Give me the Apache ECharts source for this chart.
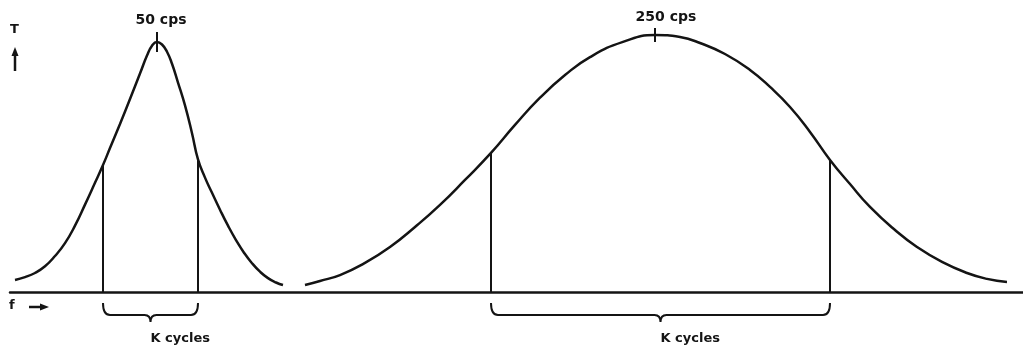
<!DOCTYPE html>
<html>
<head>
<meta charset="utf-8">
<script src="https://cdn.jsdelivr.net/npm/echarts@6/dist/echarts.min.js"></script>
<style>
  html, body { margin: 0; padding: 0; background: #fff; }
  #chart { width: 1023px; height: 349px; }
</style>
</head>
<body>
<div id="chart"></div>
<script>
// Transmission T against frequency f for the two filters, as [f, T] pairs.
const narrowCurve = [
  [15, 4.7], [25, 5.8], [35, 7.4], [45, 10.0], [55, 14.0], [65, 19.0],
  [75, 25.8], [85, 34.0], [95, 42.5], [103, 49.4], [110, 56.0], [120, 65.4],
  [130, 75.1], [140, 85.0], [147, 92.0], [152, 95.8], [157, 97.3], [162, 96.3],
  [167, 93.5], [172, 88.8], [178, 81.5], [185, 72.6], [192, 61.8], [198, 51.6],
  [205, 44.5], [212, 38.6], [220, 32.0], [228, 25.8], [236, 20.2], [244, 15.3],
  [252, 11.2], [260, 7.9], [268, 5.4], [276, 3.7], [283, 2.7]
];
const wideCurve = [
  [305, 2.7], [320, 4.3], [340, 6.6], [365, 11.3], [390, 17.5], [415, 25.3],
  [440, 33.9], [465, 43.6], [491, 54.1], [515, 65.0], [540, 75.6], [565, 84.4],
  [590, 91.4], [623, 97.3], [655, 100], [680, 99.2], [700, 96.9], [725, 92.6],
  [750, 86.4], [770, 79.8], [790, 72.0], [810, 62.3], [830, 51.4], [850, 42.0],
  [870, 33.1], [895, 24.1], [917, 17.5], [942, 11.7], [967, 7.4], [987, 5.1],
  [1007, 3.9]
];

// Centre frequency of each filter and its label.
const peakNames = ['50 cps', '250 cps'];
const peakF = [157, 655];
const peakT = [97.3, 100];

// Pass band of each filter: edge frequencies and curve height at each edge.
const bandStart = [103, 491];
const bandEnd = [198, 830];
const bandStartT = [49.4, 54.1];
const bandEndT = [51.6, 51.4];
const bandLabel = 'K cycles';

const INK = '#141414';
const FONT = 'DejaVu Sans';

const chart = echarts.init(document.getElementById('chart'), null, { renderer: 'canvas' });

const bandData = bandStart.map((f0, i) => [f0, bandEnd[i], bandStartT[i], bandEndT[i]]);

// Edge lines up to the curve, plus a curly brace under the band with its label.
function renderBand(params, api) {
  const f0 = api.value(0), f1 = api.value(1);
  const t0 = api.value(2), t1 = api.value(3);
  const b0 = api.coord([f0, 0]);
  const top0 = api.coord([f0, t0]);
  const b1 = api.coord([f1, 0]);
  const top1 = api.coord([f1, t1]);
  const x0 = b0[0], x1 = b1[0], y = b0[1];
  const xm = (x0 + x1) / 2;
  const yEnd = y + 11, yH = y + 23, yTip = y + 30;
  const r = 7, r2 = 6;
  const brace =
    'M' + x0 + ' ' + yEnd +
    ' Q' + x0 + ' ' + yH + ' ' + (x0 + r) + ' ' + yH +
    ' L' + (xm - r2) + ' ' + yH +
    ' Q' + xm + ' ' + yH + ' ' + xm + ' ' + yTip +
    ' Q' + xm + ' ' + yH + ' ' + (xm + r2) + ' ' + yH +
    ' L' + (x1 - r) + ' ' + yH +
    ' Q' + x1 + ' ' + yH + ' ' + x1 + ' ' + yEnd;
  return {
    type: 'group',
    children: [
      { type: 'line', shape: { x1: x0, y1: y, x2: top0[0], y2: top0[1] },
        style: { stroke: INK, lineWidth: 2 } },
      { type: 'line', shape: { x1: x1, y1: y, x2: top1[0], y2: top1[1] },
        style: { stroke: INK, lineWidth: 2 } },
      { type: 'path', shape: { pathData: brace },
        style: { stroke: INK, lineWidth: 2, fill: null } },
      { type: 'text', x: xm, y: y + 47,
        style: { text: bandLabel, fill: INK, font: 'bold 13px "' + FONT + '"',
                 align: 'left', verticalAlign: 'middle' } }
    ]
  };
}

const curveStyle = { color: INK, width: 2.5 };

chart.setOption({
  animation: false,
  backgroundColor: '#fff',
  grid: { left: 10, right: 0, top: 9.3, bottom: 57, containLabel: false },
  xAxis: {
    type: 'value', min: 10, max: 1023,
    axisLine: { show: true, onZero: false, lineStyle: { color: INK, width: 2.5 } },
    axisTick: { show: false }, axisLabel: { show: false }, splitLine: { show: false }
  },
  yAxis: {
    type: 'value', min: 0, max: 110, show: false,
    splitLine: { show: false }
  },
  series: [
    { type: 'line', data: narrowCurve, smooth: 0.5, symbol: 'none',
      lineStyle: curveStyle, z: 3 },
    { type: 'line', data: wideCurve, smooth: 0.5, symbol: 'none',
      lineStyle: curveStyle, z: 3 },
    {
      type: 'scatter', z: 4,
      data: peakF.map((f, i) => ({
        value: [f, peakT[i]],
        name: peakNames[i],
        symbolSize: i === 0 ? [2, 20] : [2, 14],
        label: { distance: i === 0 ? 5 : 4, offset: i === 0 ? [4, 0] : [11, 0] }
      })),
      symbol: 'rect',
      itemStyle: { color: INK, opacity: 1 },
      label: {
        show: true, position: 'top', formatter: '{b}',
        color: INK, fontFamily: FONT, fontWeight: 'bold', fontSize: 14
      }
    },
    {
      type: 'custom', renderItem: renderBand, data: bandData, z: 2,
      encode: { x: [0, 1], y: [2, 3] }
    }
  ],
  graphic: [
    { type: 'text', left: 10, top: 23,
      style: { text: 'T', fill: INK, font: 'bold 13px "' + FONT + '"' } },
    { type: 'line', shape: { x1: 15, y1: 71, x2: 15, y2: 53 },
      style: { stroke: INK, lineWidth: 2.5 } },
    { type: 'polygon', shape: { points: [[15, 47], [11.5, 56], [18.5, 56]] },
      style: { fill: INK } },
    { type: 'text', left: 9, top: 299,
      style: { text: 'f', fill: INK, font: 'bold 13px "' + FONT + '"' } },
    { type: 'line', shape: { x1: 29, y1: 307, x2: 42, y2: 307 },
      style: { stroke: INK, lineWidth: 2.5 } },
    { type: 'polygon', shape: { points: [[49, 307], [40, 303.5], [40, 310.5]] },
      style: { fill: INK } }
  ]
});
</script>
</body>
</html>
